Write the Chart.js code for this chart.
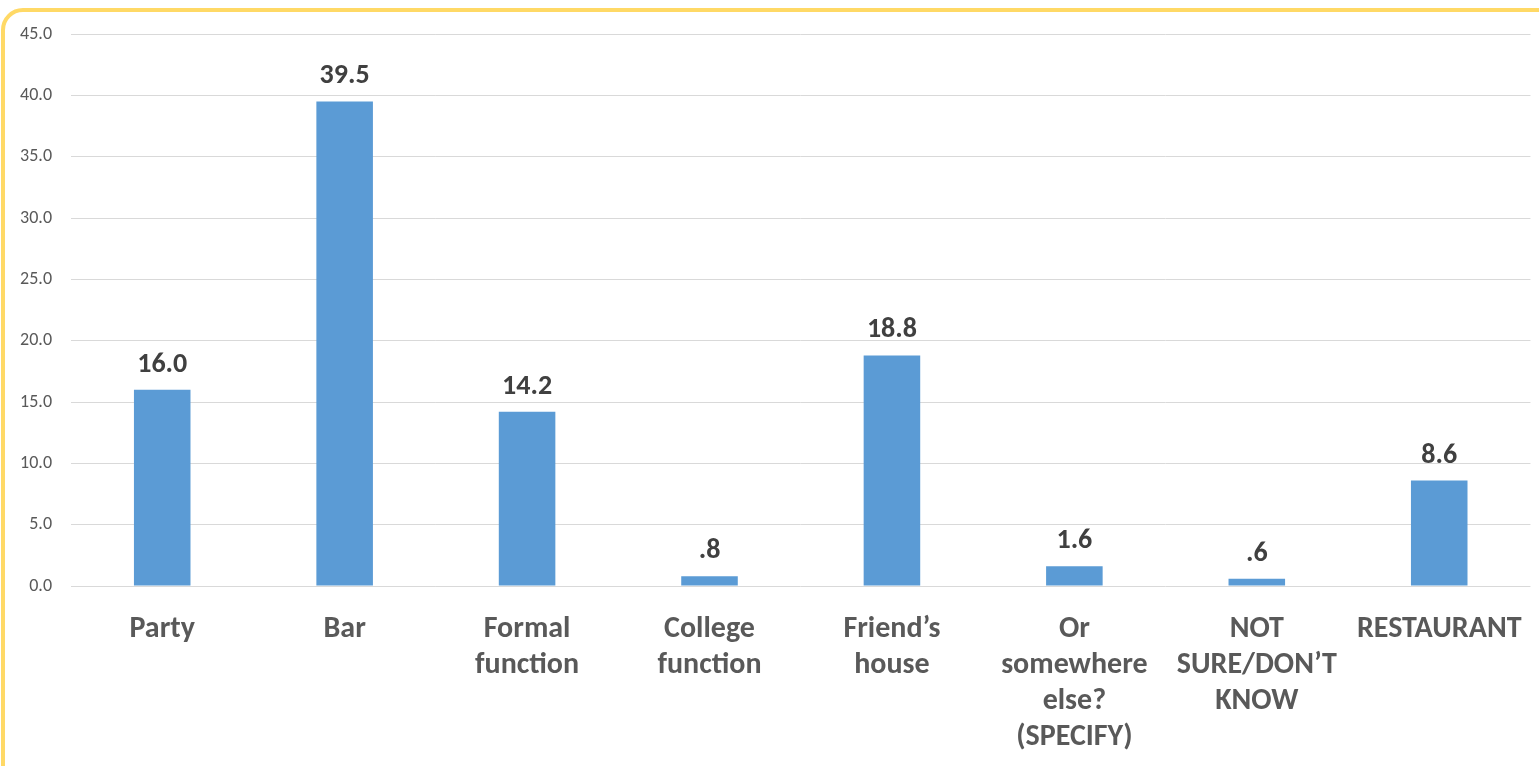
<!DOCTYPE html>
<html>
<head>
<meta charset="utf-8">
<title>Where drinking happened</title>
<script src="https://cdn.jsdelivr.net/npm/chart.js"></script>
<style>
  html, body { margin: 0; padding: 0; background: #fff; overflow: hidden; }
  #frame {
    position: absolute; left: 1px; top: 8px;
    width: 1580px; height: 790px;
    border: 4px solid #FFD966; border-radius: 22px;
    box-sizing: border-box;
  }
  #wrap { position: absolute; left: 0; top: 0; width: 1539px; height: 766px; }
</style>
</head>
<body>
<div id="frame"></div>
<div id="wrap"><canvas id="grafica" width="1539" height="766"></canvas></div>
<script>
// categorias y porcentajes
const categorias = [
  ["Party"],
  ["Bar"],
  ["Formal", "function"],
  ["College", "function"],
  ["Friend\u2019s", "house"],
  ["Or", "somewhere", "else?", "(SPECIFY)"],
  ["NOT", "SURE/DON\u2019T", "KNOW"],
  ["RESTAURANT"]
];
const valores = [16.0, 39.5, 14.2, 0.8, 18.8, 1.6, 0.6, 8.6];
const ejeMin = 0;
const ejeMax = 45;
const ejePaso = 5;

const fuente = "Carlito, Lato, 'Open Sans', sans-serif";

// 0.8 -> ".8"
function formatoValor(v) {
  const s = v.toFixed(1);
  return s.startsWith("0.") ? s.slice(1) : s;
}

// etiquetas de valor encima de cada barra
const etiquetasValor = {
  id: "etiquetasValor",
  afterDatasetsDraw(chart) {
    const ctx = chart.ctx;
    const meta = chart.getDatasetMeta(0);
    ctx.save();
    ctx.font = "bold 28px " + fuente;
    ctx.fillStyle = "#404040";
    ctx.textAlign = "center";
    ctx.textBaseline = "alphabetic";
    meta.data.forEach((bar, i) => {
      ctx.fillText(formatoValor(valores[i]), bar.x, bar.y - 18);
    });
    ctx.restore();
  }
};

new Chart(document.getElementById("grafica").getContext("2d"), {
  type: "bar",
  data: {
    labels: categorias,
    datasets: [{
      data: valores,
      backgroundColor: "#5B9BD5",
      barPercentage: 0.62,
      categoryPercentage: 0.5
    }]
  },
  options: {
    responsive: false,
    animation: false,
    layout: { padding: { left: 0, top: 34, right: 8, bottom: 0 } },
    plugins: {
      legend: { display: false },
      tooltip: { enabled: false }
    },
    scales: {
      x: {
        afterFit: s => { s.height = 180; },
        grid: { display: false },
        border: { display: false },
        ticks: {
          color: "#595959",
          font: { family: fuente, size: 30, weight: "bold", lineHeight: 1.2 },
          padding: 17,
          maxRotation: 0,
          autoSkip: false
        }
      },
      y: {
        min: ejeMin,
        max: ejeMax,
        afterFit: s => { s.width = 71; },
        grid: { color: "#D9D9D9", lineWidth: 1, drawTicks: false },
        border: { display: false },
        ticks: {
          stepSize: ejePaso,
          color: "#595959",
          font: { family: fuente, size: 18 },
          padding: 19,
          callback: v => v.toFixed(1)
        }
      }
    }
  },
  plugins: [etiquetasValor]
});
</script>
</body>
</html>
